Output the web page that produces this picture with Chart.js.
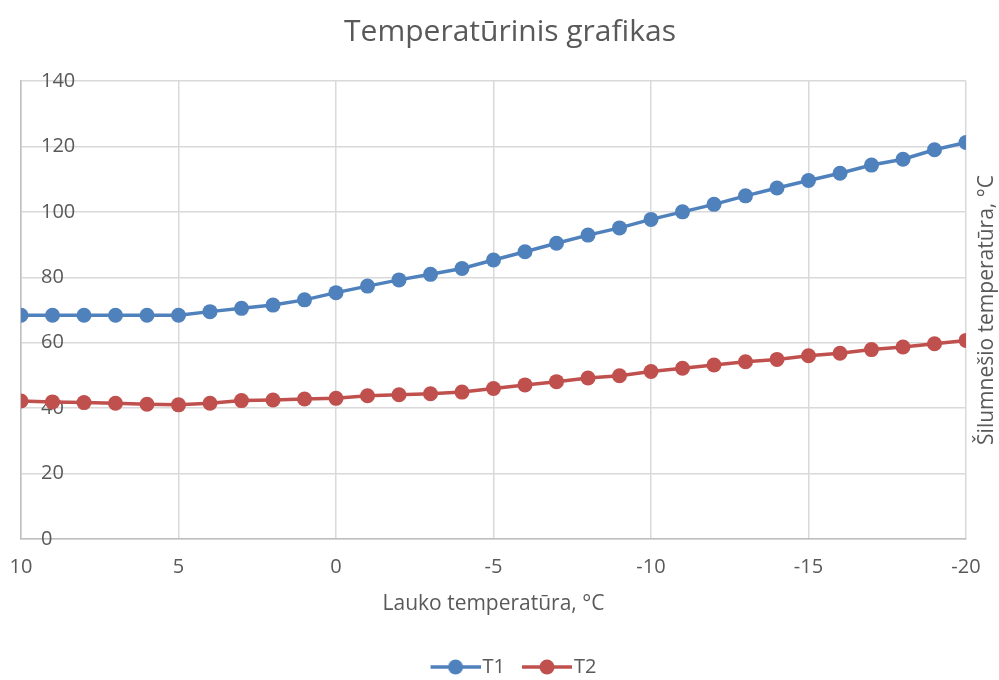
<!DOCTYPE html>
<html>
<head>
<meta charset="utf-8">
<script src="https://cdn.jsdelivr.net/npm/chart.js@4"></script>
<style>
  html, body { margin: 0; padding: 0; background: #fff; }
  #wrap { width: 999px; height: 680px; }
</style>
</head>
<body>
<div id="wrap"><canvas id="chart"></canvas></div>
<script>
const outsideTemps = [10, 9, 8, 7, 6, 5, 4, 3, 2, 1, 0, -1, -2, -3, -4, -5, -6, -7, -8, -9, -10,
  -11, -12, -13, -14, -15, -16, -17, -18, -19, -20];
const t1 = [68.4, 68.4, 68.4, 68.4, 68.4, 68.4, 69.5, 70.5, 71.5, 73.1, 75.3, 77.3, 79.2, 80.9, 82.7,
  85.3, 87.8, 90.4, 92.9, 95.1, 97.7, 100, 102.3, 104.9, 107.3, 109.6, 111.8, 114.3, 116.1, 119, 121.2];
const t2 = [42.2, 41.9, 41.7, 41.5, 41.2, 41.0, 41.5, 42.3, 42.5, 42.8, 43.0, 43.8, 44.1, 44.4, 44.9,
  46.0, 47.1, 48.1, 49.2, 49.9, 51.2, 52.2, 53.2, 54.2, 54.9, 56.0, 56.8, 57.9, 58.7, 59.7, 60.7];
const seriesNames = ["T1", "T2"];
const seriesColors = ["#4f81bd", "#c0504d"];

const FONT = "'Open Sans', 'Noto Sans', sans-serif";
const TEXT = "#595959";

// legend marker: line with a dot, like the Excel one (left 15px left empty on purpose)
function legendMarker(color) {
  const c = document.createElement("canvas");
  c.width = 65;
  c.height = 16;
  const g = c.getContext("2d");
  g.strokeStyle = color;
  g.lineWidth = 3.5;
  g.beginPath();
  g.moveTo(15, 8);
  g.lineTo(65, 8);
  g.stroke();
  g.fillStyle = color;
  g.beginPath();
  g.arc(40, 8, 7.5, 0, Math.PI * 2);
  g.fill();
  return c;
}

// the value axis title sits on the right, reading bottom to top
const rightTitle = {
  id: "rightTitle",
  afterDraw(chart) {
    const ctx = chart.ctx;
    ctx.save();
    ctx.translate(987, (chart.chartArea.top + chart.chartArea.bottom) / 2);
    ctx.rotate(-Math.PI / 2);
    ctx.font = "21px " + FONT;
    ctx.fillStyle = TEXT;
    ctx.textAlign = "center";
    ctx.textBaseline = "middle";
    ctx.fillText("Šilumnešio temperatūra, °C", 0, 0);
    ctx.restore();
  },
};

const datasets = [t1, t2].map((vals, i) => ({
  label: seriesNames[i],
  data: outsideTemps.map((x, j) => ({ x: x, y: vals[j] })),
  borderColor: seriesColors[i],
  backgroundColor: seriesColors[i],
  borderWidth: 3.5,
  pointRadius: 7.5,
  pointHoverRadius: 7.5,
  pointBorderWidth: 0,
  tension: 0,
}));

new Chart(document.getElementById("chart"), {
  type: "line",
  data: { datasets },
  plugins: [rightTitle],
  options: {
    responsive: true,
    maintainAspectRatio: false,
    animation: false,
    layout: { padding: { left: 21, right: 0, top: 0, bottom: 0 } },
    scales: {
      x: {
        type: "linear",
        reverse: true,
        min: -20,
        max: 10,
        afterFit(s) {
          s.height = 108;
          s.paddingLeft = 0;
          s.paddingRight = 0;
        },
        ticks: { stepSize: 5, padding: 16, color: TEXT, font: { family: FONT, size: 20 } },
        grid: { color: "#d9d9d9", lineWidth: 1.5, drawTicks: false },
        border: { color: "#bfbfbf", width: 1.5 },
        title: {
          display: true,
          text: "Lauko temperatūra, °C",
          color: TEXT,
          font: { family: FONT, size: 21 },
          padding: { top: 12, bottom: 30 },
        },
      },
      y: {
        min: 0,
        max: 140,
        afterFit(s) { s.width = 0; },
        ticks: { stepSize: 20, mirror: true, padding: 20, color: TEXT, font: { family: FONT, size: 20 } },
        grid: { color: "#d9d9d9", lineWidth: 1.5, drawTicks: false },
        border: { color: "#bfbfbf", width: 1.5 },
      },
      yRight: {
        position: "right",
        afterFit(s) { s.width = 33; },
        ticks: { display: false },
        grid: { display: false, drawTicks: false },
        border: { display: false },
      },
    },
    plugins: {
      title: {
        display: true,
        text: "Temperatūrinis grafikas",
        color: TEXT,
        font: { family: FONT, size: 30, weight: "normal" },
        padding: { top: 14, bottom: 31 },
      },
      legend: {
        position: "bottom",
        maxHeight: 33,
        labels: {
          usePointStyle: true,
          pointStyleWidth: 49,
          boxHeight: 16,
          color: TEXT,
          font: { family: FONT, size: 20 },
          padding: 10,
          generateLabels(chart) {
            const items = Chart.defaults.plugins.legend.labels.generateLabels(chart);
            return items.map((it, i) => ({ ...it, pointStyle: legendMarker(seriesColors[i]) }));
          },
        },
      },
      tooltip: { enabled: false },
    },
  },
});
</script>
</body>
</html>
